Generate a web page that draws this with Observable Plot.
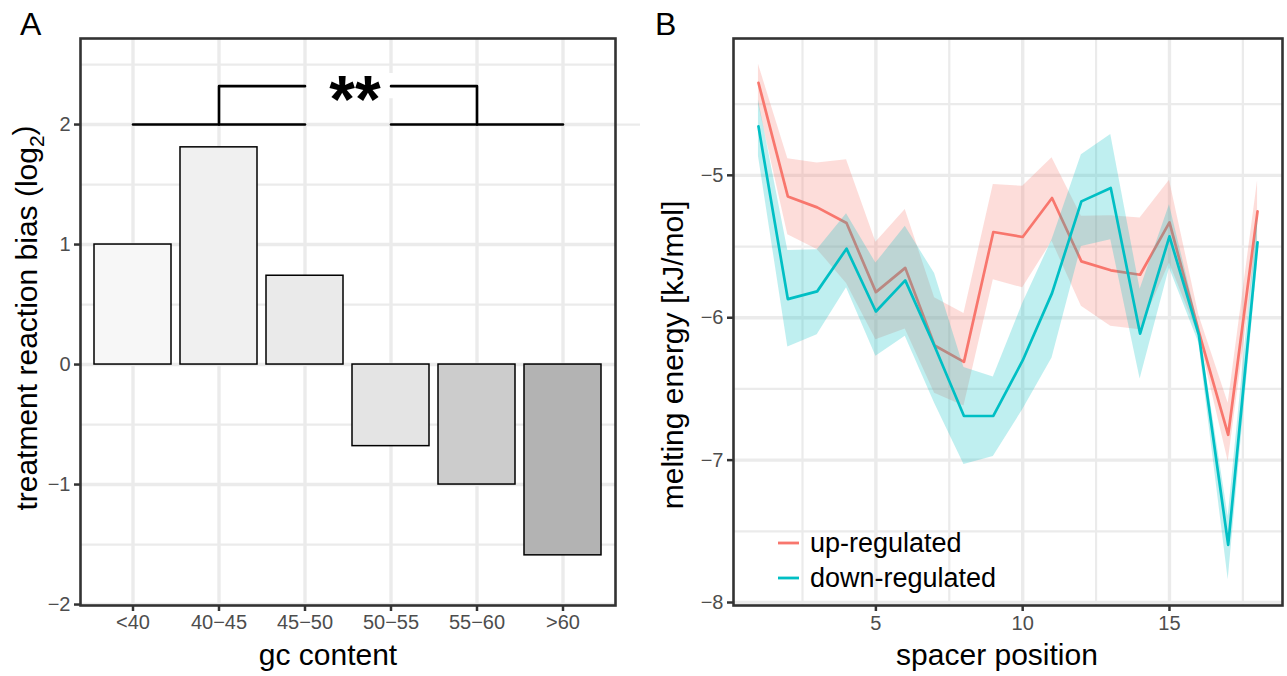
<!DOCTYPE html>
<html>
<head>
<meta charset="utf-8">
<script src="https://cdn.jsdelivr.net/npm/d3@7"></script>
<script src="https://cdn.jsdelivr.net/npm/@observablehq/plot@0.6"></script>
<style>
  html, body { margin: 0; padding: 0; background: #fff; }
  #wrap { position: relative; width: 1287px; height: 676px; overflow: hidden;
          font-family: "Liberation Sans", Arial, Helvetica, sans-serif; background: #fff; }
  .panel { position: absolute; top: 0; }
  #panelA { left: 0; }
  #panelB { left: 645px; }
  .tag { position: absolute; top: 8px; font-size: 32px; line-height: 32px; color: #000; }
  .legrow { position: absolute; height: 30px; line-height: 30px; font-size: 27px; color: #000; white-space: nowrap; }
  .legrow svg { position: absolute; left: 0; top: 0; }
  .legrow span { position: absolute; left: 32px; top: 0; }
  svg g[aria-label$="tick label"] { fill: #4d4d4d; }
  svg g[aria-label$="tick label"] text { font-size: 20px; }
</style>
</head>
<body>
<div id="wrap">
  <div id="panelA" class="panel"></div>
  <div id="panelB" class="panel"></div>
  <div class="tag" style="left:20px">A</div>
  <div class="tag" style="left:655px">B</div>
  <div id="legend"></div>
</div>
<script>
// ---------------- Panel A data ----------------
const gcCategories = ["<40", "40\u221245", "45\u221250", "50\u221255", "55\u221260", ">60"];
const biasValues   = [1.00, 1.81, 0.74, -0.68, -1.00, -1.59];
const barFills     = ["#f7f7f7", "#f0f0f0", "#eaeaea", "#e4e4e4", "#cccccc", "#b3b3b3"];
const yTicksA      = [-2, -1, 0, 1, 2];
const yMinorA      = [-1.5, -0.5, 0.5, 1.5, 2.5];
const yDomainA     = [-2.008, 2.717];
const sigLowGroup  = ["<40", "40\u221245", "45\u221250"];
const sigHighGroup = ["50\u221255", "55\u221260", ">60"];
const sigBase      = 2;
const sigTop       = 2.32;
const sigLabel     = "**";
const sigLabelPad  = 0.105;
const xTitleA      = "gc content";
const yTitleA      = ["treatment reaction bias (log", "2", ")"];

// ---------------- Panel B data ----------------
const positions = [1, 2, 3, 4, 5, 6, 7, 8, 9, 10, 11, 12, 13, 14, 15, 16, 17, 18];
const upMean   = [-4.35, -5.148, -5.225, -5.335, -5.82, -5.65, -6.195, -6.31, -5.398, -5.433, -5.159, -5.604, -5.667, -5.698, -5.33, -6.10, -6.822, -5.253];
const upHigh   = [-4.22, -4.883, -4.913, -4.89, -5.47, -5.24, -5.86, -5.97, -5.065, -5.077, -4.877, -5.288, -5.283, -5.30, -5.035, -5.98, -6.60, -5.04];
const upLow    = [-4.50, -5.417, -5.52, -5.76, -6.155, -6.08, -6.53, -6.62, -5.733, -5.79, -5.463, -5.92, -6.06, -6.085, -5.616, -6.13, -7.01, -5.46];
const downMean = [-4.656, -5.869, -5.815, -5.515, -5.956, -5.738, -6.20, -6.69, -6.69, -6.30, -5.827, -5.183, -5.089, -6.112, -5.428, -6.12, -7.595, -5.47];
const downHigh = [-4.47, -5.527, -5.522, -5.27, -5.616, -5.358, -5.69, -6.35, -6.417, -5.90, -5.452, -4.855, -4.714, -5.80, -5.206, -6.06, -7.396, -5.288];
const downLow  = [-4.866, -6.206, -6.12, -5.79, -6.27, -6.13, -6.60, -7.03, -6.975, -6.646, -6.283, -5.499, -5.452, -6.43, -5.65, -6.178, -7.84, -5.61];
const seriesNames  = ["up-regulated", "down-regulated"];
const seriesColors = ["#F8766D", "#00BFC4"];
const xTicksB  = [5, 10, 15];
const xMinorB  = [2.5, 7.5, 12.5, 17.5];
const yTicksB  = [-8, -7, -6, -5];
const yMinorB  = [-7.5, -6.5, -5.5, -4.5];
const xTitleB  = "spacer position";
const yTitleB  = "melting energy [kJ/mol]";

// ---------------- shared style ----------------
const FONT = '"Liberation Sans", Arial, Helvetica, sans-serif';
const GRID = "#ebebeb";
const AXIS = "#333333";
const TICK_FONT = 20;
const intFormat = d3.format("d");

// ---------------- Panel A ----------------
const bars = gcCategories.map((g, i) => ({g, v: biasValues[i], fill: barFills[i]}));
const baseLines = [sigLowGroup, sigHighGroup].map((grp, k) =>
  [{g: grp[0], v: sigBase, k}, {g: grp[grp.length - 1], v: sigBase, k}]).flat();
const bracketLeft = [
  {g: sigLowGroup[1], v: sigBase},
  {g: sigLowGroup[1], v: sigTop},
  {g: sigLowGroup[2], v: sigTop}
];
const bracketRight = [
  {g: sigHighGroup[0], v: sigTop},
  {g: sigHighGroup[1], v: sigTop},
  {g: sigHighGroup[1], v: sigBase}
];

const plotA = Plot.plot({
  width: 650, height: 676,
  marginLeft: 80, marginRight: 35, marginTop: 38, marginBottom: 71,
  style: {fontFamily: FONT, fontSize: TICK_FONT + "px", background: "transparent", overflow: "visible"},
  x: {type: "band", domain: gcCategories, paddingInner: 0.1, paddingOuter: 0.15, label: null},
  y: {domain: yDomainA, label: null},
  color: {type: "identity"},
  marks: [
    Plot.ruleY(yMinorA, {stroke: GRID, strokeWidth: 2.2}),
    Plot.ruleY(yTicksA, {stroke: GRID, strokeWidth: 3.4}),
    Plot.ruleX(gcCategories, {stroke: GRID, strokeWidth: 3.4}),
    Plot.ruleY([sigBase], {stroke: GRID, strokeWidth: 2.2, dx: 25}),
    Plot.barY(bars, {x: "g", y: "v", fill: "fill", stroke: "#000", strokeWidth: 1.5}),
    Plot.ruleX([sigHighGroup[0]], {x: d => d, y1: sigTop - sigLabelPad, y2: sigTop + sigLabelPad, stroke: "#fff", strokeWidth: 6}),
    Plot.lineY(baseLines, {x: "g", y: "v", z: "k", stroke: "#000", strokeWidth: 2.6}),
    Plot.lineY(bracketLeft, {x: "g", y: "v", stroke: "#000", strokeWidth: 2.6}),
    Plot.lineY(bracketRight, {x: "g", y: "v", stroke: "#000", strokeWidth: 2.6}),
    Plot.text([sigLabel], {y: sigTop, text: d => d, fontSize: 66, fontWeight: "bold", fill: "#000", lineAnchor: "middle", dx: 7, dy: 15}),
    Plot.axisX({tickSize: 6, tickPadding: 3, stroke: AXIS, strokeWidth: 2.5, fontSize: TICK_FONT, label: null}),
    Plot.axisY({ticks: yTicksA, tickFormat: intFormat, tickSize: 6, tickPadding: 4, stroke: AXIS, strokeWidth: 2.5, fontSize: TICK_FONT, label: null}),
    Plot.text([xTitleA], {frameAnchor: "bottom", text: d => d, fontSize: 30, fill: "#000", lineAnchor: "middle", dy: 50, dx: -20}),
    Plot.text([yTitleA.join("")], {frameAnchor: "left", text: d => d, fontSize: 30, fill: "#000", rotate: -90, textAnchor: "middle", lineAnchor: "middle", dx: -53, dy: -4}),
    Plot.frame({stroke: AXIS, strokeWidth: 2.6})
  ]
});
// subscript in the y title
d3.select(plotA).selectAll("text").filter(function() { return this.textContent === yTitleA.join(""); })
  .each(function() {
    const t = d3.select(this);
    t.text(null);
    t.append("tspan").text(yTitleA[0]);
    t.append("tspan").attr("dy", "0.32em").attr("font-size", "21px").text(yTitleA[1]);
    t.append("tspan").attr("dy", "-0.32em").text(yTitleA[2]);
  });
document.getElementById("panelA").appendChild(plotA);

// ---------------- Panel B ----------------
const rows = positions.flatMap((p, i) => [
  {pos: p, group: seriesNames[0], mean: upMean[i], lo: upLow[i], hi: upHigh[i]},
  {pos: p, group: seriesNames[1], mean: downMean[i], lo: downLow[i], hi: downHigh[i]}
]);
const [xMin, xMax] = d3.extent(positions);
const xPad = (xMax - xMin) * 0.05;
const [yMin, yMax] = d3.extent([...upLow, ...upHigh, ...downLow, ...downHigh]);
const yPad = (yMax - yMin) * 0.05;

const seriesMarks = seriesNames.flatMap(name => {
  const data = rows.filter(r => r.group === name);
  return [
    Plot.areaY(data, {x: "pos", y1: "lo", y2: "hi", fill: "group", fillOpacity: 0.25}),
    Plot.lineY(data, {x: "pos", y: "mean", stroke: "group", strokeWidth: 2.7})
  ];
});

const plotB = Plot.plot({
  width: 642, height: 676,
  marginLeft: 88, marginRight: 5, marginTop: 38, marginBottom: 71,
  style: {fontFamily: FONT, fontSize: TICK_FONT + "px", background: "transparent", overflow: "visible"},
  x: {domain: [xMin - xPad, xMax + xPad], label: null},
  y: {domain: [yMin - yPad, yMax + yPad], label: null},
  color: {domain: seriesNames, range: seriesColors},
  marks: [
    Plot.ruleX(xMinorB, {stroke: GRID, strokeWidth: 2.2}),
    Plot.ruleY(yMinorB, {stroke: GRID, strokeWidth: 2.2}),
    Plot.ruleX(xTicksB, {stroke: GRID, strokeWidth: 3.4}),
    Plot.ruleY(yTicksB, {stroke: GRID, strokeWidth: 3.4}),
    ...seriesMarks,
    Plot.axisX({ticks: xTicksB, tickFormat: intFormat, tickSize: 6, tickPadding: 4, stroke: AXIS, strokeWidth: 2.5, fontSize: TICK_FONT, label: null}),
    Plot.axisY({ticks: yTicksB, tickFormat: intFormat, tickSize: 6, tickPadding: 4, stroke: AXIS, strokeWidth: 2.5, fontSize: TICK_FONT, label: null}),
    Plot.text([xTitleB], {frameAnchor: "bottom", text: d => d, fontSize: 30, fill: "#000", lineAnchor: "middle", dy: 50, dx: -11}),
    Plot.text([yTitleB], {frameAnchor: "left", text: d => d, fontSize: 30, fill: "#000", rotate: -90, textAnchor: "middle", lineAnchor: "middle", dx: -60, dy: 33}),
    Plot.frame({stroke: AXIS, strokeWidth: 2.6})
  ]
});
document.getElementById("panelB").appendChild(plotB);

// ---------------- legend (panel B) ----------------
const colorB = plotB.scale("color");
const legend = document.getElementById("legend");
seriesNames.forEach((name, i) => {
  const row = document.createElement("div");
  row.className = "legrow";
  row.style.left = "778px";
  row.style.top = (528 + i * 35) + "px";
  row.innerHTML = `<svg width="22" height="30"><line x1="0" x2="21" y1="15" y2="15" stroke="${colorB.apply(name)}" stroke-width="2.8"/></svg><span></span>`;
  row.querySelector("span").textContent = name;
  legend.appendChild(row);
});
</script>
</body>
</html>
